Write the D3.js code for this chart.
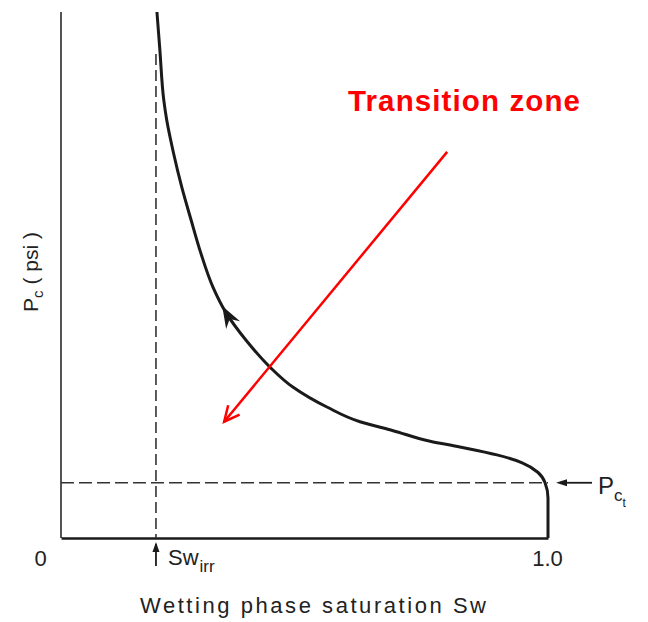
<!DOCTYPE html>
<html><head><meta charset="utf-8">
<script src="https://cdn.jsdelivr.net/npm/d3@7"></script>
<style>
body{margin:0;background:#fff;}
svg{display:block;}
text{font-family:"Liberation Sans",Arial,sans-serif;}
</style></head>
<body><svg id="c" width="648" height="622"></svg>
<script>
// --- data ---
const swValues = [0.197,0.203,0.211,0.217,0.231,0.248,0.267,0.287,0.312,0.339,0.380,0.429,0.476,0.546,0.614,0.682,0.758,0.819,0.895,0.947,0.979,0.994,1.0,1.0];
const pcValues = [10.00,9.28,8.33,7.95,7.32,6.67,6.05,5.42,4.77,4.28,3.76,3.25,2.87,2.49,2.21,2.04,1.84,1.73,1.58,1.43,1.25,1.05,0.76,0.0];
const swIrr = 0.195;
const pcT = 1.05;
const xTickValues = [0, 1];
const xTickLabels = ["0", "1.0"];
const arrowOnCurve = {tip:[0.331,4.41], back:[0.339,4.28]};
const redArrow = {from:[0.793,7.34], to:[0.335,2.21]};

const svg = d3.select("#c");
const x = d3.scaleLinear().domain([0,1]).range([61,548]);
const y = d3.scaleLinear().domain([0,10]).range([538,12]);
const ink = "#1a1a1a";

// y-axis line
svg.append("line").attr("x1",x(0)).attr("x2",x(0)).attr("y1",y(10)).attr("y2",y(0))
  .attr("stroke","#555").attr("stroke-width",2);

// x axis
const xa = svg.append("g").attr("transform",`translate(0,${y(0)})`)
  .call(d3.axisBottom(x).tickValues(xTickValues).tickSize(0).tickPadding(12)
        .tickFormat((d,i)=>xTickLabels[i]));
xa.select(".domain").attr("stroke",ink).attr("stroke-width",2.5);
xa.selectAll(".tick text").attr("font-size",22).attr("fill","#222")
  .attr("font-family","Liberation Sans, Arial, sans-serif")
  .attr("dx",(d)=> d===0 ? -21 : -1);

// dashed reference lines
svg.append("line").attr("x1",x(swIrr)).attr("x2",x(swIrr)).attr("y1",y(9.2)).attr("y2",y(0))
  .attr("stroke","#333").attr("stroke-width",1.6).attr("stroke-dasharray","11,5");
svg.append("line").attr("x1",x(0)).attr("x2",x(1)).attr("y1",y(pcT)).attr("y2",y(pcT))
  .attr("stroke","#333").attr("stroke-width",1.6).attr("stroke-dasharray","13,5");

// curve
const pts = swValues.map((s,i)=>[s,pcValues[i]]);
const line = d3.line().x(d=>x(d[0])).y(d=>y(d[1])).curve(d3.curveMonotoneY);
svg.append("path").datum(pts).attr("d",line).attr("fill","none")
  .attr("stroke",ink).attr("stroke-width",3);

// arrowhead on curve (pointing up along the curve)
{
  const tx = x(arrowOnCurve.tip[0]), ty = y(arrowOnCurve.tip[1]);
  const ang = Math.atan2(ty - y(arrowOnCurve.back[1]), tx - x(arrowOnCurve.back[0]))*180/Math.PI;
  svg.append("path").attr("d","M0,0 L-22,-8 L-15,0 L-22,8 Z")
    .attr("transform",`translate(${tx},${ty}) rotate(${ang})`).attr("fill",ink);
}

// red arrow
{
  const x1=x(redArrow.from[0]), y1=y(redArrow.from[1]), x2=x(redArrow.to[0]), y2=y(redArrow.to[1]);
  svg.append("line").attr("x1",x1).attr("y1",y1).attr("x2",x2).attr("y2",y2)
    .attr("stroke","#ff0000").attr("stroke-width",2.5);
  const a = Math.atan2(y2-y1,x2-x1);
  const L=17, w=0.45;
  svg.append("path").attr("d",`M${x2-L*Math.cos(a-w)},${y2-L*Math.sin(a-w)} L${x2},${y2} L${x2-L*Math.cos(a+w)},${y2-L*Math.sin(a+w)}`)
    .attr("fill","none").attr("stroke","#ff0000").attr("stroke-width",2.5);
}

svg.append("text").attr("x",348).attr("y",111).attr("font-size",29.5).attr("font-weight","bold")
  .attr("fill","#ff0000").attr("textLength",232).text("Transition zone");

// Sw_irr marker
svg.append("line").attr("x1",x(swIrr)).attr("x2",x(swIrr)).attr("y1",y(0)+6).attr("y2",y(0)+28)
  .attr("stroke",ink).attr("stroke-width",1.8);
svg.append("path").attr("d",`M${x(swIrr)},${y(0)+4} l-3.5,10 l7,0 Z`).attr("fill",ink);
const sw = svg.append("text").attr("x",168).attr("y",565).attr("font-size",22).attr("fill","#222");
sw.append("tspan").text("Sw");
sw.append("tspan").attr("font-size",17).attr("dy",7).attr("dx",1).text("irr");

// Pc_t marker
svg.append("line").attr("x1",x(1)+12).attr("x2",x(1)+44).attr("y1",y(pcT)).attr("y2",y(pcT))
  .attr("stroke",ink).attr("stroke-width",1.8);
svg.append("path").attr("d",`M${x(1)+8},${y(pcT)} l11,-3.5 l0,7 Z`).attr("fill",ink);
const pct = svg.append("text").attr("x",598).attr("y",494).attr("font-size",24).attr("fill","#222");
pct.append("tspan").text("P");
pct.append("tspan").attr("font-size",17).attr("dy",7).text("c");
pct.append("tspan").attr("font-size",12).attr("dy",6).text("t");

// axis titles
svg.append("text").attr("x",313).attr("y",613).attr("font-size",22).attr("fill","#222")
  .attr("text-anchor","middle").attr("textLength",346).text("Wetting phase saturation Sw");
const yl = svg.append("text").attr("transform","translate(38,272) rotate(-90)")
  .attr("text-anchor","middle").attr("font-size",21).attr("fill","#222");
yl.append("tspan").text("P");
yl.append("tspan").attr("font-size",15).attr("dy",5).text("c");
yl.append("tspan").attr("dy",-5).text(" ( psi )");
</script></body></html>
